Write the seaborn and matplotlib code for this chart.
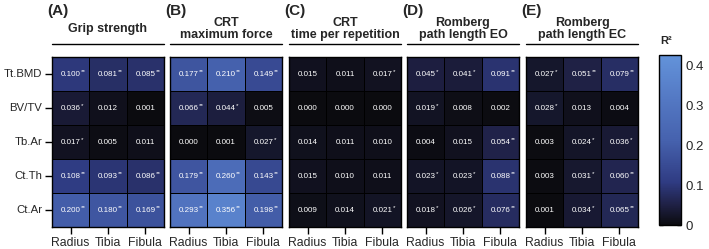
import numpy as np
import pandas as pd
import matplotlib
matplotlib.use("Agg")
import matplotlib.pyplot as plt
import seaborn as sns
from matplotlib.colors import LinearSegmentedColormap
from matplotlib.lines import Line2D

sns.set_style("white")
plt.rcParams['font.family'] = ['Liberation Sans', 'DejaVu Sans']

# ---- données ----
rows = ["Tt.BMD", "BV/TV", "Tb.Ar", "Ct.Th", "Ct.Ar"]
bones = ["Radius", "Tibia", "Fibula"]
panel_tags = ["(A)", "(B)", "(C)", "(D)", "(E)"]
panel_titles = ["Grip strength", "CRT\nmaximum force", "CRT\ntime per repetition",
                "Romberg\npath length EO", "Romberg\npath length EC"]

grip_r2 = [[0.100, 0.081, 0.085], [0.036, 0.012, 0.001], [0.017, 0.005, 0.011],
           [0.108, 0.093, 0.086], [0.200, 0.180, 0.169]]
grip_sig = [["**", "**", "**"], ["*", "", ""], ["*", "", ""],
            ["**", "**", "**"], ["**", "**", "**"]]

crt_force_r2 = [[0.177, 0.210, 0.149], [0.066, 0.044, 0.005], [0.000, 0.001, 0.027],
                [0.179, 0.260, 0.143], [0.293, 0.356, 0.198]]
crt_force_sig = [["**", "**", "**"], ["**", "*", ""], ["", "", "*"],
                 ["**", "**", "**"], ["**", "**", "**"]]

crt_time_r2 = [[0.015, 0.011, 0.017], [0.000, 0.000, 0.000], [0.014, 0.011, 0.010],
               [0.015, 0.010, 0.011], [0.009, 0.014, 0.021]]
crt_time_sig = [["", "", "*"], ["", "", ""], ["", "", ""],
                ["", "", ""], ["", "", "*"]]

romberg_eo_r2 = [[0.045, 0.041, 0.091], [0.019, 0.008, 0.002], [0.004, 0.015, 0.054],
                 [0.023, 0.023, 0.088], [0.018, 0.026, 0.076]]
romberg_eo_sig = [["*", "*", "**"], ["*", "", ""], ["", "", "**"],
                  ["*", "*", "**"], ["*", "*", "**"]]

romberg_ec_r2 = [[0.027, 0.051, 0.079], [0.028, 0.013, 0.004], [0.003, 0.024, 0.036],
                 [0.003, 0.031, 0.060], [0.001, 0.034, 0.065]]
romberg_ec_sig = [["*", "**", "**"], ["*", "", ""], ["", "*", "*"],
                  ["", "*", "**"], ["", "*", "**"]]

all_r2 = [grip_r2, crt_force_r2, crt_time_r2, romberg_eo_r2, romberg_ec_r2]
all_sig = [grip_sig, crt_force_sig, crt_time_sig, romberg_eo_sig, romberg_ec_sig]

vmin, vmax = 0.0, 0.425
cbar_ticks = [0, 0.1, 0.2, 0.3, 0.4]
cbar_ticklabels = ["0", "0.1", "0.2", "0.3", "0.4"]

cmap = LinearSegmentedColormap.from_list("r2", [
    (0.0, "#0b0b0f"), (0.12, "#1f2146"), (0.25, "#2f3b82"),
    (0.5, "#4662ae"), (0.75, "#5479c4"), (1.0, "#6393da")])

# ---- figure ----
W, H = 709, 249
fig = plt.figure(figsize=(W / 100, H / 100), dpi=100)

lefts = [52, 170, 289, 407, 526]
pw, ph, pb = 112, 170, 22

for k in range(5):
    ax = fig.add_axes([lefts[k] / W, pb / H, pw / W, ph / H])
    df = pd.DataFrame(all_r2[k], index=rows, columns=bones)
    sns.heatmap(df, ax=ax, cmap=cmap, vmin=vmin, vmax=vmax, cbar=False,
                linewidths=0.6, linecolor="black", annot=False)
    for i in range(len(rows)):
        for j in range(len(bones)):
            ax.text(j + 0.5, i + 0.5, f"{all_r2[k][i][j]:.3f}", color="white",
                    ha="center", va="center", fontsize=5.8)
            if all_sig[k][i][j]:
                ax.annotate(all_sig[k][i][j], xy=(j + 0.5, i + 0.5), xytext=(7.4, 1.5),
                            textcoords="offset points", color="white",
                            ha="left", va="center", fontsize=4.6)
    for sp in ax.spines.values():
        sp.set_visible(True)
        sp.set_color("black")
        sp.set_linewidth(1.0)
    ax.tick_params(axis="x", bottom=True, length=5, width=1, labelsize=8.8,
                   pad=2, color="black")
    ax.set_xticklabels(bones, rotation=0)
    if k == 0:
        ax.tick_params(axis="y", left=True, length=5, width=1, labelsize=8.2,
                       pad=2, color="black")
        ax.set_yticklabels(rows, rotation=0)
    else:
        ax.set_yticks([])
    ax.set_xlabel("")
    ax.set_ylabel("")

    ax.text(0.5, 1.165, panel_titles[k], transform=ax.transAxes, ha="center",
            va="center", fontsize=9, fontweight="bold", linespacing=1.0)
    ax.add_line(Line2D([0, 1], [1.076, 1.076], transform=ax.transAxes,
                       color="black", linewidth=1, clip_on=False))
    ax.text(-0.045, 1.268, panel_tags[k], transform=ax.transAxes, ha="left",
            va="center", fontsize=11, fontweight="bold")

# ---- barre de couleur ----
cax = fig.add_axes([659 / W, 24 / H, 22 / W, 170 / H])
sm = plt.cm.ScalarMappable(cmap=cmap, norm=plt.Normalize(vmin, vmax))
cb = fig.colorbar(sm, cax=cax, ticks=cbar_ticks)
cb.set_ticklabels(cbar_ticklabels)
cb.outline.set_linewidth(1)
cb.outline.set_edgecolor("black")
cax.tick_params(axis="y", direction="in", length=3, width=1, labelsize=9.5,
                right=True, left=True, pad=3)
cax.text(0.05, 1.085, "R²", transform=cax.transAxes, ha="left", va="center",
         fontsize=8, fontweight="bold")

plt.savefig("out.png", dpi=100)
